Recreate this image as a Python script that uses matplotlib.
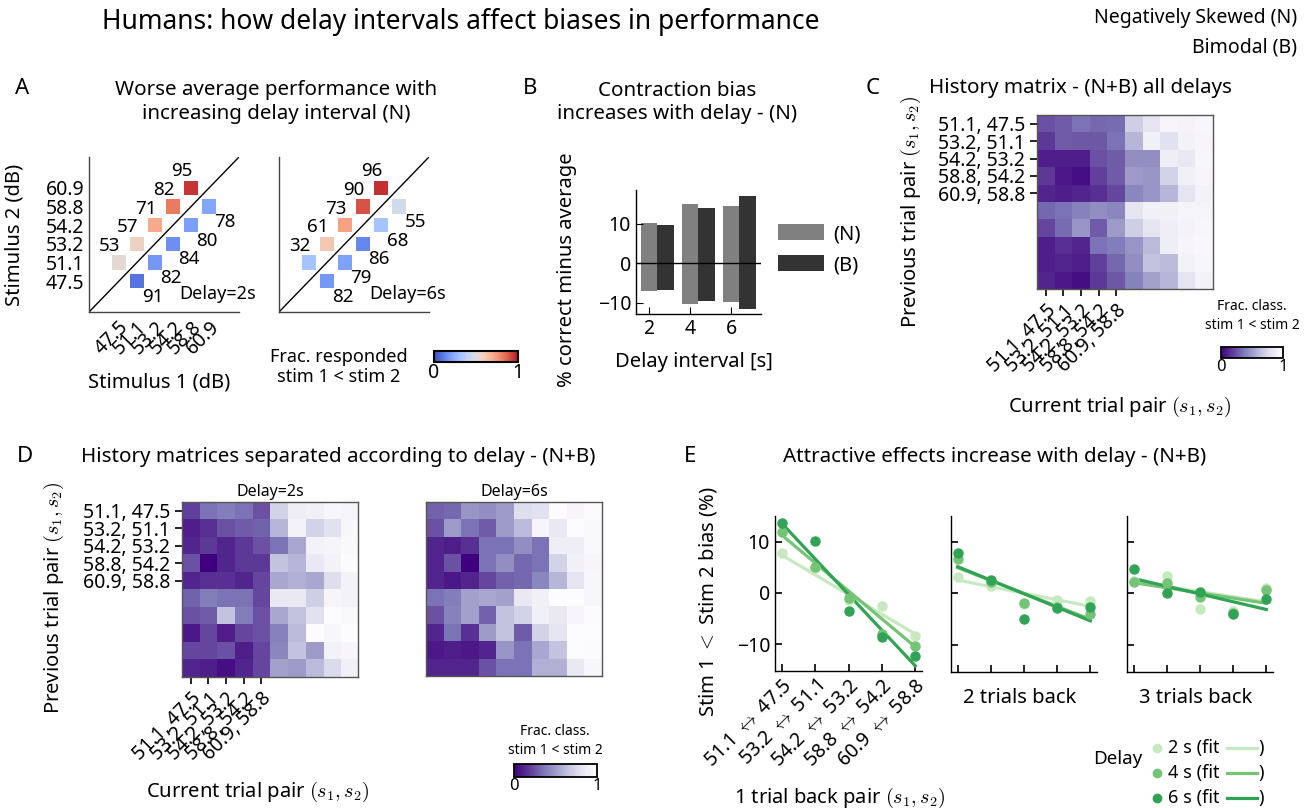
import numpy as np
import matplotlib.pyplot as plt

plt.rcParams['font.family'] = ['Noto Sans', 'DejaVu Sans']
plt.rcParams['mathtext.fontset'] = 'cm'
plt.rcParams['axes.linewidth'] = 1.0

W, H = 1307, 808
TICK = 14
LABEL = 14.5

# --- stimulus / pair labels ---
stim_levels = ["47.5", "51.1", "53.2", "54.2", "58.8", "60.9"]
pair_labels = ["51.1, 47.5", "53.2, 51.1", "54.2, 53.2", "58.8, 54.2", "60.9, 58.8"]
arrow_labels = [r"51.1 $\leftrightarrow$ 47.5", r"53.2 $\leftrightarrow$ 51.1",
                r"54.2 $\leftrightarrow$ 53.2", r"58.8 $\leftrightarrow$ 54.2",
                r"60.9 $\leftrightarrow$ 58.8"]

# --- A: percent correct per stimulus pair (index of s1, index of s2) ---
pair_s1 = [0, 1, 2, 3, 4, 1, 2, 3, 4, 5]
pair_s2 = [1, 2, 3, 4, 5, 0, 1, 2, 3, 4]
perf_2s = [53, 57, 71, 82, 95, 91, 82, 84, 80, 78]
perf_6s = [32, 61, 73, 90, 96, 82, 79, 86, 68, 55]

# --- B: contraction bias, top/bottom of each floating bar ---
delays = [2, 4, 6]
neg_top = [10.2, 14.9, 14.4]
neg_bottom = [-7.0, -10.4, -9.9]
bim_top = [9.6, 13.9, 17.0]
bim_bottom = [-6.7, -9.5, -11.6]

# --- C / D: history matrices (rows: previous pair, cols: current pair) ---
hist_all = np.array([
    [0.25, 0.28, 0.35, 0.32, 0.33, 0.70, 0.82, 0.95, 0.93, 0.96],
    [0.18, 0.28, 0.27, 0.27, 0.35, 0.60, 0.90, 0.80, 0.92, 0.95],
    [0.10, 0.10, 0.10, 0.25, 0.28, 0.45, 0.45, 0.88, 0.85, 0.96],
    [0.18, 0.08, 0.05, 0.20, 0.28, 0.50, 0.48, 0.72, 0.90, 0.95],
    [0.12, 0.10, 0.12, 0.15, 0.22, 0.42, 0.48, 0.60, 0.82, 0.92],
    [0.32, 0.35, 0.40, 0.45, 0.42, 0.82, 0.90, 0.90, 0.94, 0.94],
    [0.22, 0.33, 0.48, 0.28, 0.50, 0.70, 0.82, 0.88, 0.93, 0.96],
    [0.10, 0.15, 0.12, 0.35, 0.38, 0.48, 0.62, 0.88, 0.95, 0.97],
    [0.10, 0.12, 0.10, 0.20, 0.32, 0.45, 0.65, 0.62, 0.92, 0.96],
    [0.12, 0.08, 0.05, 0.18, 0.27, 0.40, 0.52, 0.60, 0.82, 0.92],
])
hist_2s = np.array([
    [0.20, 0.35, 0.38, 0.35, 0.25, 0.72, 0.88, 0.90, 0.96, 0.94],
    [0.10, 0.15, 0.25, 0.28, 0.30, 0.60, 0.92, 0.72, 0.80, 0.96],
    [0.12, 0.18, 0.12, 0.18, 0.25, 0.35, 0.55, 0.92, 0.94, 0.98],
    [0.25, 0.00, 0.12, 0.18, 0.18, 0.65, 0.60, 0.85, 0.92, 0.99],
    [0.12, 0.15, 0.15, 0.12, 0.22, 0.55, 0.58, 0.55, 0.78, 0.92],
    [0.30, 0.38, 0.35, 0.35, 0.22, 0.85, 0.85, 0.70, 0.95, 0.92],
    [0.25, 0.28, 0.65, 0.38, 0.25, 0.55, 0.65, 0.80, 1.00, 0.98],
    [0.08, 0.22, 0.10, 0.22, 0.25, 0.40, 0.62, 1.00, 0.96, 1.00],
    [0.22, 0.22, 0.25, 0.10, 0.22, 0.42, 0.65, 0.50, 0.92, 0.95],
    [0.12, 0.10, 0.05, 0.12, 0.22, 0.52, 0.50, 0.62, 0.75, 0.90],
])
hist_6s = np.array([
    [0.30, 0.32, 0.48, 0.45, 0.50, 0.78, 0.80, 1.00, 0.95, 0.99],
    [0.25, 0.50, 0.35, 0.28, 0.50, 0.62, 0.95, 0.85, 1.00, 0.98],
    [0.12, 0.10, 0.15, 0.35, 0.35, 0.45, 0.35, 0.88, 0.88, 0.98],
    [0.12, 0.25, 0.00, 0.35, 0.45, 0.32, 0.35, 0.72, 0.90, 0.95],
    [0.12, 0.08, 0.12, 0.22, 0.30, 0.32, 0.42, 0.60, 0.82, 0.96],
    [0.35, 0.38, 0.52, 0.55, 0.52, 0.85, 0.90, 1.00, 1.00, 0.96],
    [0.25, 0.40, 0.52, 0.30, 0.65, 0.72, 0.90, 0.85, 0.95, 0.99],
    [0.12, 0.35, 0.15, 0.50, 0.65, 0.28, 0.72, 0.82, 1.00, 1.00],
    [0.08, 0.10, 0.08, 0.12, 0.48, 0.35, 0.55, 0.65, 1.00, 0.99],
    [0.12, 0.12, 0.12, 0.25, 0.35, 0.35, 0.58, 0.58, 0.85, 0.96],
])

# --- E: bias vs. pair n trials back, per delay ---
delay_names = ["2 s", "4 s", "6 s"]
delay_colors = ["#c7e9c0", "#74c476", "#31a354"]
bias_1back = {"2 s": [7.7, 4.8, -1.3, -2.5, -8.3],
              "4 s": [11.8, 5.1, -1.0, -8.0, -10.3],
              "6 s": [13.6, 10.2, -3.5, -8.5, -12.2]}
bias_2back = {"2 s": [3.2, 1.4, -2.1, -1.2, -1.4],
              "4 s": [6.6, 2.3, -1.8, -2.7, -3.9],
              "6 s": [7.8, 2.6, -4.9, -2.9, -2.6]}
bias_3back = {"2 s": [2.5, 3.4, -3.1, -3.4, 1.0],
              "4 s": [2.3, 2.1, -0.7, -3.8, 0.6],
              "6 s": [4.7, 0.0, 0.3, -4.0, -1.0]}
# fitted line values at first and last pair
fit_1back = {"2 s": (7.4, -8.0), "4 s": (11.3, -10.5), "6 s": (13.6, -14.2)}
fit_2back = {"2 s": (2.6, -2.5), "4 s": (5.0, -5.0), "6 s": (5.2, -5.3)}
fit_3back = {"2 s": (2.3, -1.6), "4 s": (2.1, -1.9), "6 s": (2.9, -3.1)}


def box(l, t, r, b):
    return [l / W, 1 - b / H, (r - l) / W, (b - t) / H]


def ftext(x, y, s, **kw):
    fig.text(x / W, 1 - y / H, s, **kw)


fig = plt.figure(figsize=(W / 100, H / 100), dpi=100)

ftext(461, 22, "Humans: how delay intervals affect biases in performance",
      fontsize=19, ha='center', va='center')
ftext(1297, 18, "Negatively Skewed (N)", fontsize=14, ha='right', va='center')
ftext(1297, 47, "Bimodal (B)", fontsize=14, ha='right', va='center')

for letter, x, y in [("A", 22, 88), ("B", 530, 88), ("C", 873, 88),
                     ("D", 25, 457), ("E", 690, 457)]:
    ftext(x, y, letter, fontsize=16, ha='center', va='center')

ftext(276, 102, "Worse average performance with\nincreasing delay interval (N)",
      fontsize=14.8, ha='center', va='center', linespacing=1.2)
ftext(677, 102, "Contraction bias\nincreases with delay - (N)",
      fontsize=14.8, ha='center', va='center', linespacing=1.2)
ftext(1080, 88, "History matrix - (N+B) all delays", fontsize=14.8,
      ha='center', va='center')
ftext(338, 457, "History matrices separated according to delay - (N+B)",
      fontsize=14.8, ha='center', va='center')
ftext(995, 457, "Attractive effects increase with delay - (N+B)",
      fontsize=14.8, ha='center', va='center')

# ---------- A ----------
cmap_a = plt.get_cmap('coolwarm')
for k, (perf, rect, tag) in enumerate([(perf_2s, box(89, 157, 239, 312), "Delay=2s"),
                                       (perf_6s, box(279, 157, 429, 312), "Delay=6s")]):
    ax = fig.add_axes(rect)
    frac = [p / 100 if a < b else 1 - p / 100 for p, a, b in zip(perf, pair_s1, pair_s2)]
    ax.plot([-1.65, 6.65], [-1.65, 6.65], color='black', lw=1)
    ax.scatter(pair_s1, pair_s2, c=frac, cmap=cmap_a, vmin=0, vmax=1,
               marker='s', s=110, linewidths=0, zorder=3)
    for p, a, b in zip(perf, pair_s1, pair_s2):
        if a < b:
            ax.text(a + 0.1, b + 0.4, str(p), ha='right', va='bottom', fontsize=13.5)
        else:
            ax.text(a + 0.3, b - 0.35, str(p), ha='left', va='top', fontsize=13.5)
    ax.text(3.35, -0.7, tag, ha='left', va='center', fontsize=13)
    ax.set_xlim(-1.65, 6.65)
    ax.set_ylim(-1.65, 6.65)
    for s in ['top', 'right']:
        ax.spines[s].set_visible(False)
    for s in ['left', 'bottom']:
        ax.spines[s].set_color('#444444')
    ax.tick_params(length=0, labelsize=TICK)
    if k == 0:
        ax.set_xticks(range(6))
        ax.set_xticklabels(stim_levels, rotation=45, ha='right', rotation_mode='anchor')
        ax.set_yticks(range(6))
        ax.set_yticklabels(stim_levels)
        ax.set_xlabel("Stimulus 1 (dB)", fontsize=LABEL)
        ax.set_ylabel("Stimulus 2 (dB)", fontsize=LABEL)
        ax.xaxis.set_label_coords(0.47, -0.39)
        ax.yaxis.set_label_coords(-0.43, 0.5)
    else:
        ax.set_xticks([])
        ax.set_yticks([])

cax = fig.add_axes(box(434, 351, 518, 362))
sm = plt.cm.ScalarMappable(cmap=cmap_a, norm=plt.Normalize(0, 1))
cb = fig.colorbar(sm, cax=cax, orientation='horizontal', ticks=[0, 1])
cb.ax.tick_params(length=0, labelsize=TICK, pad=1)
cb.outline.set_linewidth(1.5)
ftext(339, 367, "Frac. responded\nstim 1 < stim 2", fontsize=13,
      ha='center', va='center', linespacing=1.1)

# ---------- B ----------
ax = fig.add_axes(box(636, 190, 761, 314))
xs = np.array(delays, dtype=float)
ax.bar(xs, np.array(neg_top) - np.array(neg_bottom), bottom=neg_bottom, width=0.8,
       color='#808080', label='(N)')
ax.bar(xs + 0.8, np.array(bim_top) - np.array(bim_bottom), bottom=bim_bottom, width=0.8,
       color='#333333', label='(B)')
ax.axhline(0, color='black', lw=1)
ax.set_xlim(1.37, 7.46)
ax.set_ylim(-12.9, 18.5)
ax.set_xticks(delays)
ax.set_yticks([-10, 0, 10])
ax.set_yticklabels(["\u221210", "0", "10"])
ax.tick_params(direction='in', length=5, labelsize=TICK)
for s in ['top', 'right']:
    ax.spines[s].set_visible(False)
ax.set_xlabel("Delay interval [s]", fontsize=LABEL)
ax.set_ylabel("% correct minus average", fontsize=LABEL)
ax.xaxis.set_label_coords(0.46, -0.31)
ax.yaxis.set_label_coords(-0.47, 0.36)
ax.legend(loc='upper left', bbox_to_anchor=(1.07, 0.79), frameon=False, fontsize=14.5,
          handlelength=2.3, handleheight=0.85, handletextpad=0.45, labelspacing=0.55,
          borderaxespad=0)


# ---------- heatmaps ----------
def heatmap(rect, data, ticks):
    ax = fig.add_axes(rect)
    ax.imshow(data, cmap='Purples_r', vmin=0, vmax=1, aspect='auto',
              interpolation='nearest')
    for s in ax.spines.values():
        s.set_color('#555555')
    if ticks:
        ax.set_xticks(range(5))
        ax.set_xticklabels(pair_labels, rotation=45, ha='right', rotation_mode='anchor')
        ax.set_yticks(range(5))
        ax.set_yticklabels(pair_labels)
        ax.tick_params(direction='out', length=5, width=1.2, labelsize=TICK)
    else:
        ax.set_xticks([])
        ax.set_yticks([])
    return ax


def small_cbar(rect, lx, ly):
    cax = fig.add_axes(rect)
    sm = plt.cm.ScalarMappable(cmap='Purples_r', norm=plt.Normalize(0, 1))
    cb = fig.colorbar(sm, cax=cax, orientation='horizontal', ticks=[0, 1])
    cb.ax.tick_params(length=0, labelsize=12, pad=1)
    cb.outline.set_linewidth(1.3)
    ftext(lx, ly, "Frac. class.\nstim 1 < stim 2", fontsize=10, ha='center',
          va='center', linespacing=1.3)


ax = heatmap(box(1037, 115, 1213, 289), hist_all, True)
ax.set_ylabel(r"Previous trial pair $(s_1, s_2)$", fontsize=LABEL)
ax.set_xlabel(r"Current trial pair $(s_1, s_2)$", fontsize=LABEL)
ax.yaxis.set_label_coords(-0.65, 0.44)
ax.xaxis.set_label_coords(0.47, -0.61)
small_cbar(box(1221, 347, 1283, 358), 1252, 316)

ax = heatmap(box(182, 502, 358, 677), hist_2s, True)
ax.set_title("Delay=2s", fontsize=11.5, pad=4)
ax.set_ylabel(r"Previous trial pair $(s_1, s_2)$", fontsize=LABEL)
ax.set_xlabel(r"Current trial pair $(s_1, s_2)$", fontsize=LABEL)
ax.yaxis.set_label_coords(-0.66, 0.45)
ax.xaxis.set_label_coords(0.43, -0.59)
ax = heatmap(box(426, 502, 602, 676), hist_6s, False)
ax.set_title("Delay=6s", fontsize=11.5, pad=4)
small_cbar(box(514, 764, 597, 777), 555, 741)

# ---------- E ----------
panels_e = [(box(775, 516, 922, 671), bias_1back, fit_1back),
            (box(951, 516, 1097, 672), bias_2back, fit_2back),
            (box(1127, 516, 1273, 672), bias_3back, fit_3back)]
for k, (rect, bias, fit) in enumerate(panels_e):
    ax = fig.add_axes(rect)
    x = np.arange(5)
    for name, col in zip(delay_names, delay_colors):
        ax.plot([x[0], x[-1]], fit[name], color=col, lw=2.3, zorder=2)
        ax.plot(x, bias[name], 'o', color=col, ms=6.5, zorder=3)
    ax.set_xlim(-0.2, 4.2)
    ax.set_ylim(-15.2, 15)
    ax.set_xticks(x)
    ax.set_yticks([-10, 0, 10])
    ax.tick_params(direction='in', length=5, width=1.2, labelsize=TICK)
    for s in ['top', 'right']:
        ax.spines[s].set_visible(False)
    if k == 0:
        ax.set_yticklabels(["\u221210", "0", "10"])
        ax.set_xticklabels(arrow_labels, rotation=45, ha='right', rotation_mode='anchor')
        ax.set_ylabel(r"Stim 1 $<$ Stim 2 bias (%)", fontsize=LABEL)
        ax.set_xlabel(r"1 trial back pair $(s_1, s_2)$", fontsize=LABEL)
        ax.yaxis.set_label_coords(-0.38, 0.45)
        ax.xaxis.set_label_coords(0.44, -0.74)
    else:
        ax.set_yticklabels([])
        ax.set_xticklabels([])
        ax.set_xlabel("%d trials back" % (k + 1), fontsize=LABEL)
        ax.xaxis.set_label_coords(0.47, -0.10)

# legend for E: marker, "2 s (fit", line, ")"
lax = fig.add_axes([0, 0, 1, 1], zorder=-1)
lax.set_xlim(0, W)
lax.set_ylim(H, 0)
lax.axis('off')
lax.text(1118, 759, "Delay", fontsize=13.5, ha='center', va='center')
for i, (name, col) in enumerate(zip(delay_names, delay_colors)):
    yy = 748 + 25 * i
    lax.plot([1157], [yy], 'o', color=col, ms=6)
    lax.text(1168, yy, name + " (fit", fontsize=13, ha='left', va='center')
    lax.plot([1227, 1257], [yy, yy], color=col, lw=2.3)
    lax.text(1258, yy, ")", fontsize=13, ha='left', va='center')

fig.savefig("out.png", dpi=100)
